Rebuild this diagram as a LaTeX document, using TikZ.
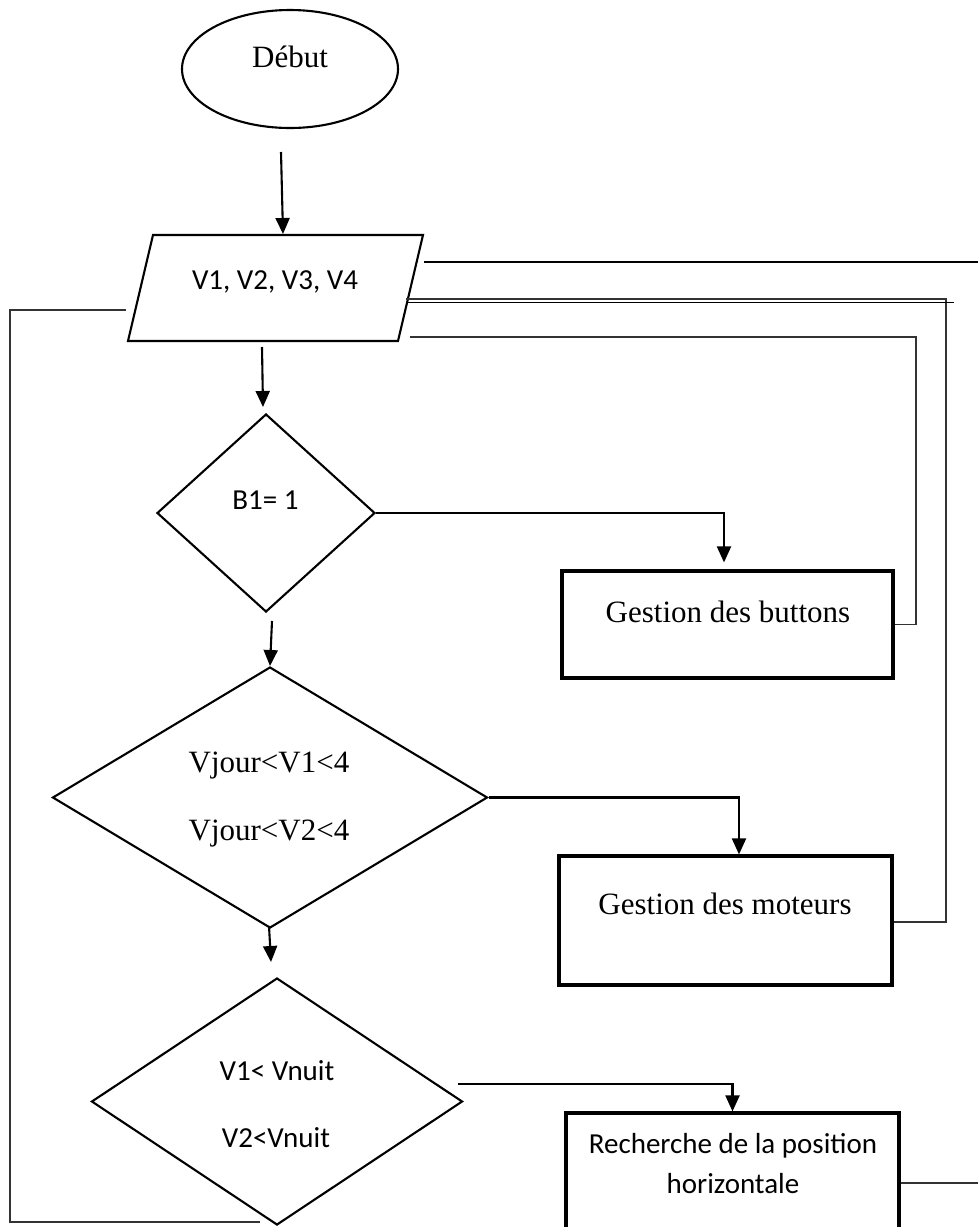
\documentclass[tikz,border=0pt]{standalone}
\usepackage{fontspec}
\setmainfont{Liberation Serif}
\newfontfamily\calib{Carlito}
\usetikzlibrary{shapes.geometric,arrows.meta}
\begin{document}
\begin{tikzpicture}[x=1pt,y=-1pt,
  shapeline/.style={draw=black,line width=2.1pt},
  boxline/.style={draw=black,line width=3.2pt,rectangle,inner sep=0pt},
  flow/.style={draw=black,line width=2.1pt,-{Triangle[width=14pt,length=16pt]}},
  loopline/.style={draw=black!80,line width=1.3pt},
  serif/.style={font=\fontsize{31}{36}\selectfont,anchor=base,inner sep=0pt},
  sans/.style={font=\calib\fontsize{29}{34}\selectfont,anchor=base,inner sep=0pt},
]
\useasboundingbox (0,0) rectangle (978,1227);

% start
\node[ellipse,shapeline,minimum width=216pt,minimum height=118pt,inner sep=0pt] (debut) at (290,69) {};
\node[serif] (debutT) at (290,67) {Début};

% input parallelogram
\coordinate (p1) at (153,235);
\coordinate (p2) at (423,235);
\coordinate (p3) at (398,341);
\coordinate (p4) at (128,341);
\draw[shapeline,line join=miter] (p1) -- (p2) -- (p3) -- (p4) -- cycle;
\node[sans] (inputT) at (275,289) {V1, V2, V3, V4};

% decisions
\node[diamond,shapeline,minimum width=218pt,minimum height=198pt,inner sep=0pt] (d1) at (266,513) {};
\node[sans] (d1T) at (265.5,509) {B1= 1};

\node[diamond,shapeline,minimum width=435pt,minimum height=261pt,inner sep=0pt] (d2) at (270,797.5) {};
\node[serif] (d2Ta) at (269,772) {Vjour<V1<4};
\node[serif] (d2Tb) at (269,840) {Vjour<V2<4};

\node[diamond,shapeline,minimum width=371pt,minimum height=247pt,inner sep=0pt] (d3) at (277,1101.5) {};
\node[sans] (d3Ta) at (277,1080) {V1< Vnuit};
\node[sans] (d3Tb) at (276,1147) {V2<Vnuit};

% process boxes
\node[boxline,minimum width=331pt,minimum height=107pt] (bbtn) at (727.5,624.5) {};
\node[serif] (bbtnT) at (728,622) {Gestion des buttons};

\node[boxline,minimum width=333pt,minimum height=129pt] (bmot) at (725.5,920.5) {};
\node[serif] (bmotT) at (725,914) {Gestion des moteurs};

\node[boxline,minimum width=333pt,minimum height=134pt] (brech) at (732.5,1180) {};
\node[sans] (brechTa) at (733,1153) {Recherche de la position};
\node[sans] (brechTb) at (733,1193) {horizontale};

% main flow arrows
\coordinate (a1s) at (281,152);
\coordinate (a1e) at (283,234);
\draw[flow] (a1s) -- (a1e);
\coordinate (a2s) at (262,347);
\coordinate (a2e) at (263,407);
\draw[flow] (a2s) -- (a2e);
\coordinate (a3s) at (272,621);
\coordinate (a3e) at (270,666);
\draw[flow] (a3s) -- (a3e);
\coordinate (a4s) at (269,926);
\coordinate (a4e) at (271,962);
\draw[flow] (a4s) -- (a4e);

% yes branches
\draw[flow,shorten >=7pt] (d1.east) -| ([xshift=-3.5pt]bbtn.north);
\draw[flow] (d2.east) -| ([xshift=13.5pt]bmot.north);
\coordinate (c3s) at (458,1084);
\draw[flow] (c3s) -| (brech.north);

% loop-back lines
\coordinate (l0a) at (126,310);
\coordinate (l0b) at (260,1222);
\draw[loopline] (l0a) -- (10,310) -- (10,1222) -- (l0b);

\coordinate (lA) at (424,262);
\coordinate (lAe) at (978,262);
\draw[loopline,draw=black] (lA) -- (lAe);

\coordinate (lB) at (406,299);
\draw[loopline] (lB) -- (946,299) -- (946,922) -- (bmot.east |- 0,922);
\coordinate (lB2) at (406,302.5);
\coordinate (lB2e) at (954,302.5);
\draw[draw=black,line width=1.7pt] (lB2) -- (lB2e);

\coordinate (lC) at (410,337);
\draw[loopline] (lC) -- (916,337) -- (916,624.5) -- (bbtn.east);

\coordinate (lDe) at (978,1183);
\draw[loopline] (brech.east |- 0,1183) -- (lDe);
\end{tikzpicture}
\end{document}
